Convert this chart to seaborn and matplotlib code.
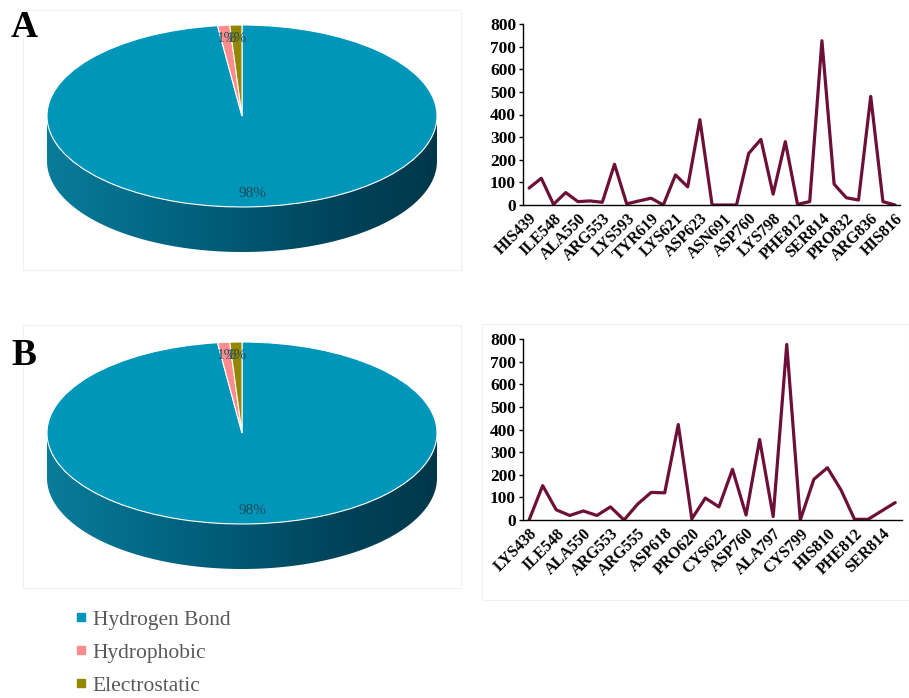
import numpy as np
import pandas as pd
import matplotlib
matplotlib.use("Agg")
import matplotlib.pyplot as plt
from matplotlib.patches import Polygon, Rectangle
from matplotlib.lines import Line2D
from matplotlib.colors import LinearSegmentedColormap
import seaborn as sns

sns.set_theme(style="white")
plt.rcParams["font.family"] = ["Liberation Serif", "DejaVu Serif"]
plt.rcParams["text.color"] = "black"
plt.rcParams["xtick.color"] = "black"
plt.rcParams["ytick.color"] = "black"

# ---- data -------------------------------------------------------------
interaction_types = ["Hydrogen Bond", "Hydrophobic", "Electrostatic"]
share_a = [98, 1, 1]
share_b = [98, 1, 1]

labels_a = ["HIS439", "ILE548", "ALA550", "ARG553", "LYS593", "TYR619",
            "LYS621", "ASP623", "ASN691", "ASP760", "LYS798", "PHE812",
            "SER814", "PRO832", "ARG836", "HIS816"]
energy_a = [75, 118, 3, 55, 15, 18, 12, 180, 5, 18, 30, 0, 133, 80, 377,
            0, 0, 0, 228, 290, 48, 280, 3, 15, 726, 92, 32, 22, 480, 15, 0]

labels_b = ["LYS438", "ILE548", "ALA550", "ARG553", "ARG555", "ASP618",
            "PRO620", "CYS622", "ASP760", "ALA797", "CYS799", "HIS810",
            "PHE812", "SER814"]
energy_b = [0, 152, 45, 20, 40, 20, 58, 0, 70, 122, 120, 422, 5, 97, 58,
            224, 22, 356, 15, 776, 0, 180, 231, 133, 3, 3, 40, 77]

# ---- styling ----------------------------------------------------------
W, H = 909, 698
top_color = "#0096ba"
pie_colors = [top_color, "#ff8c8c", "#938600"]
line_color = "#6d1038"
side_cmap = LinearSegmentedColormap.from_list(
    "side", [(0.0, "#087c9a"), (0.45, "#005b77"), (0.75, "#00435a"), (1.0, "#00384a")])
pct_color = "#1f4a58"
legend_text = "#595959"
serif = ["Liberation Serif", "DejaVu Serif"]

fig = plt.figure(figsize=(W / 100, H / 100), dpi=100)


def px_axes(left, top, right, bottom):
    return fig.add_axes([left / W, 1 - bottom / H, (right - left) / W, (bottom - top) / H])


def frame(left, top, right, bottom):
    fig.patches.append(Rectangle((left / W, 1 - bottom / H), (right - left) / W,
                                 (bottom - top) / H, transform=fig.transFigure,
                                 fill=False, edgecolor="#f0f0f0", linewidth=0.8))


def pie3d(ax, shares, depth):
    wedges, _, autotexts = ax.pie(
        shares, colors=pie_colors, startangle=90, counterclock=False,
        autopct="%.0f%%", pctdistance=0.85, radius=1, center=(0, 0),
        wedgeprops=dict(edgecolor="white", linewidth=0.8))
    for w in wedges:
        w.set_zorder(3)
    for t in autotexts:
        t.set_color(pct_color)
        t.set_fontsize(11)
        t.set_zorder(5)
    # front side of the disc, shaded from left to right
    t = np.linspace(np.pi, 2 * np.pi, 200)
    upper = np.column_stack([np.cos(t), np.sin(t)])
    lower = np.column_stack([np.cos(t[::-1]), np.sin(t[::-1]) - depth])
    side = Polygon(np.vstack([upper, lower]), closed=True, facecolor="none",
                   edgecolor="none", zorder=1)
    ax.add_patch(side)
    grad = np.linspace(0, 1, 256).reshape(1, -1)
    im = ax.imshow(grad, cmap=side_cmap, extent=[-1, 1, -1 - depth, 0],
                   aspect="auto", zorder=1, interpolation="bilinear")
    im.set_clip_path(side)
    ax.set_aspect("auto")
    ax.set_xlim(-1, 1)
    ax.set_ylim(-1 - depth, 1)
    ax.axis("off")


def energy_plot(ax, values, labels, xlim):
    df = pd.DataFrame({"pos": np.arange(len(values)), "energy": values})
    sns.lineplot(data=df, x="pos", y="energy", ax=ax, color=line_color,
                 linewidth=2.3)
    ax.set_xlim(*xlim)
    ax.set_ylim(0, 800)
    ax.set_yticks(np.arange(0, 801, 100))
    ax.set_xticks(np.arange(0, len(values), 2))
    ax.set_xticklabels(labels, rotation=45, ha="right", rotation_mode="anchor",
                       fontweight="bold", fontsize=11.5)
    for lab in ax.get_yticklabels():
        lab.set_fontweight("bold")
        lab.set_fontsize(12.5)
    ax.tick_params(axis="y", length=3, width=1, color="black", direction="out",
                   left=True, pad=2)
    ax.tick_params(axis="x", length=0, pad=4)
    ax.set_xlabel("")
    ax.set_ylabel("")
    sns.despine(ax=ax)
    for s in ("left", "bottom"):
        ax.spines[s].set_color("black")
        ax.spines[s].set_linewidth(1)
    ax.grid(False)


# frames
frame(23, 10, 461, 270)
frame(23, 325, 461, 588)
frame(482, 324, 909, 600)

# pies
depth = 45 / 91
ax_pa = px_axes(47, 25, 437, 252)
pie3d(ax_pa, share_a, depth)
ax_pb = px_axes(47, 342, 437, 569)
pie3d(ax_pb, share_b, depth)

# line charts
ax_la = px_axes(523, 24, 900, 205)
energy_plot(ax_la, energy_a, labels_a, (-0.5, 30.4))
ax_lb = px_axes(523, 339, 902, 520)
energy_plot(ax_lb, energy_b, labels_b, (-0.45, 27.5))

# panel letters
fig.text(11 / W, 1 - 37 / H, "A", fontsize=27, fontweight="bold", color="black",
         ha="left", va="baseline")
fig.text(11 / W, 1 - 365 / H, "B", fontsize=27, fontweight="bold", color="black",
         ha="left", va="baseline")

# legend
handles = [Line2D([], [], linestyle="none", marker="s", markersize=6,
                  markerfacecolor=c, markeredgecolor=c) for c in pie_colors]
leg = fig.legend(handles, interaction_types, loc="upper left",
                 bbox_to_anchor=(66 / W, 1 - 601 / H), frameon=False,
                 prop=dict(family=serif, size=15.5), handlelength=0.6,
                 handletextpad=0.25, labelspacing=0.6, borderaxespad=0)
for t in leg.get_texts():
    t.set_color(legend_text)

fig.savefig("out.png", dpi=100, facecolor="white")
